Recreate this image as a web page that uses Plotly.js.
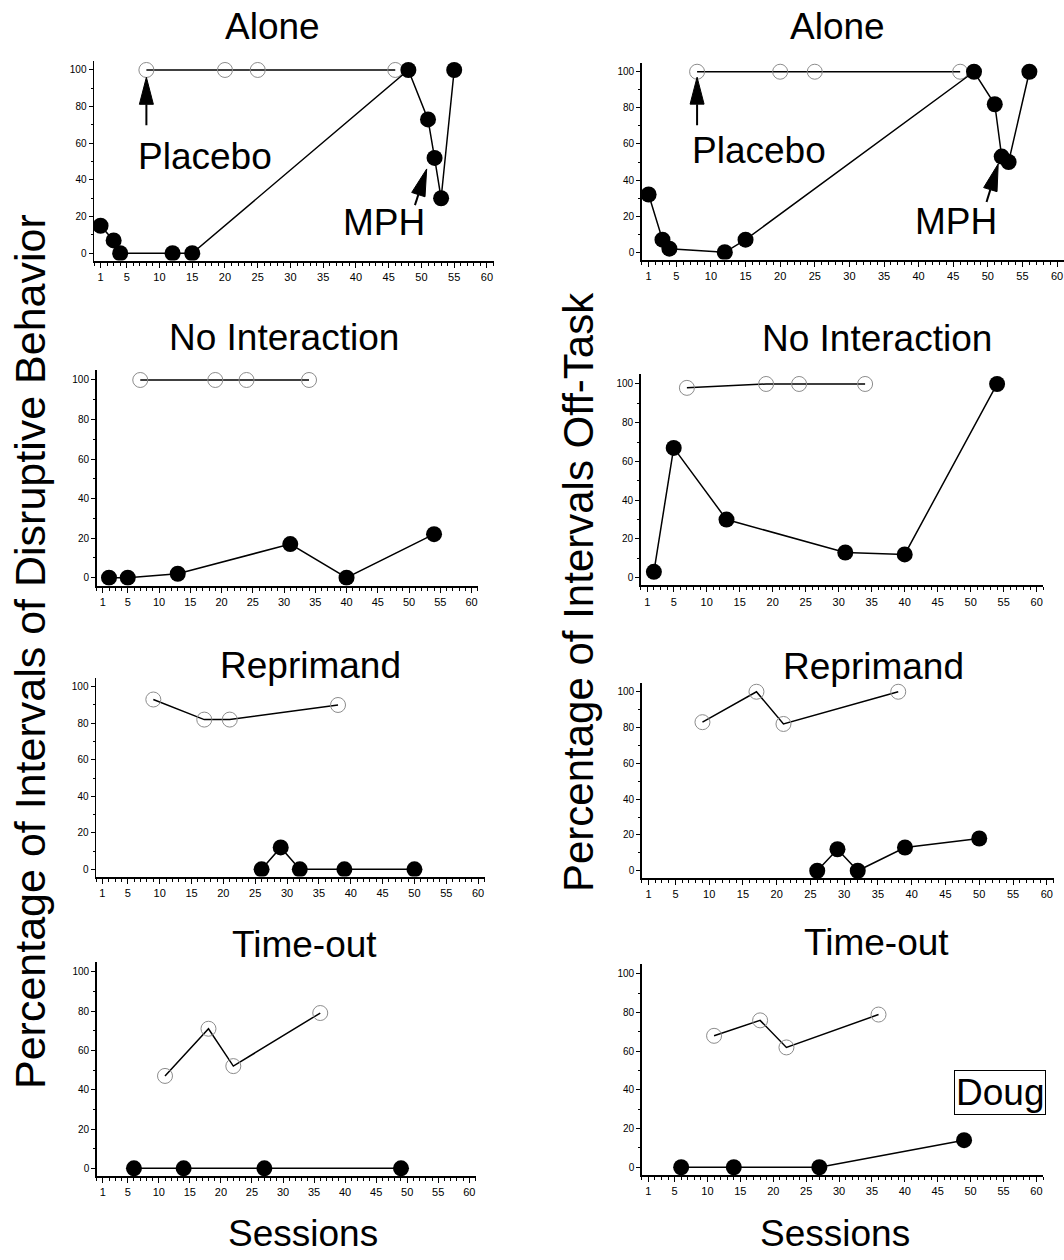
<!DOCTYPE html>
<html><head><meta charset="utf-8">
<script src="https://cdn.plot.ly/plotly-3.0.1.min.js"></script>
<style>html,body{margin:0;padding:0;background:#fff}#chart{width:1064px;height:1260px}</style>
</head><body><div id="chart"></div>
<script>
// ---------- tick labels ----------
const sessionTicks = [1,5,10,15,20,25,30,35,40,45,50,55,60];
const percentTicks = [0,20,40,60,80,100];
const conditions = ["Alone","No Interaction","Reprimand","Time-out"];

// ---------- Percentage of intervals of disruptive behavior (left column) ----------
const aloneDisPlaceboX = [8,20,25,46];
const aloneDisPlaceboY = [100,100,100,100];
const aloneDisMphX = [1,3,4,12,15,48,51,52,53,55];
const aloneDisMphY = [15,7,0,0,0,100,73,52,30,100];

const noIntDisPlaceboX = [7,19,24,34];
const noIntDisPlaceboY = [100,100,100,100];
const noIntDisMphX = [2,5,13,31,40,54];
const noIntDisMphY = [0,0,2,17,0,22];

const reprDisPlaceboX = [9,17,21,38];
const reprDisPlaceboY = [93,82,82,90];
const reprDisMphX = [26,29,32,39,50];
const reprDisMphY = [0,12,0,0,0];

const timeDisPlaceboX = [11,18,22,36];
const timeDisPlaceboY = [47,71,52,79];
const timeDisMphX = [6,14,27,49];
const timeDisMphY = [0,0,0,0];

// ---------- Percentage of intervals off-task (right column) ----------
const aloneOffPlaceboX = [8,20,25,46];
const aloneOffPlaceboY = [100,100,100,100];
const aloneOffMphX = [1,3,4,12,15,48,51,52,53,56];
const aloneOffMphY = [32,7,2,0,7,100,82,53,50,100];

const noIntOffPlaceboX = [7,19,24,34];
const noIntOffPlaceboY = [98,100,100,100];
const noIntOffMphX = [2,5,13,31,40,54];
const noIntOffMphY = [3,67,30,13,12,100];

const reprOffPlaceboX = [9,17,21,38];
const reprOffPlaceboY = [83,100,82,100];
const reprOffMphX = [26,29,32,39,50];
const reprOffMphY = [0,12,0,13,18];

const timeOffPlaceboX = [11,18,22,36];
const timeOffPlaceboY = [68,76,62,79];
const timeOffMphX = [6,14,27,49];
const timeOffMphY = [0,0,0,14];

// ---------- annotation anchors (data units) ----------
const placeboLabelDis = [16.9, 53];
const mphLabelDis = [44.3, 17];
const placeboArrowTipDis = [8, 96];
const mphArrowTipDis = [50.8, 46];
const placeboLabelOff = [16.9, 56.5];
const mphLabelOff = [45.4, 17];
const placeboArrowTipOff = [8, 97];
const mphArrowTipOff = [51.5, 49];
const dougLabel = [54.5, 38.5];

// ---------- layout geometry (pixels) ----------
const W = 1064, H = 1260;
const FONT = "Liberation Sans, Arial, Helvetica, sans-serif";
// [left, right, top, bottom] of each plot area
const leftBoxes  = [[94,493.5,60.8,260.6],[96.5,477.8,370.1,585.6],[96,484.5,677.6,876.6],[96.7,475.5,961.9,1176.2]];
const rightBoxes = [[641.7,1064,62.7,259.5],[640.7,1043.3,374.3,585.4],[641.7,1053.5,682.8,877.9],[641.7,1043,964.3,1175]];
const leftTitlePos  = [[272,26],[283.5,338],[310,665],[304,944]];
const rightTitlePos = [[837,26],[876.7,339],[873,666],[876,942]];

const panels = [
  {box:leftBoxes[0], pX:aloneDisPlaceboX, pY:aloneDisPlaceboY, mX:aloneDisMphX, mY:aloneDisMphY},
  {box:leftBoxes[1], pX:noIntDisPlaceboX, pY:noIntDisPlaceboY, mX:noIntDisMphX, mY:noIntDisMphY},
  {box:leftBoxes[2], pX:reprDisPlaceboX, pY:reprDisPlaceboY, mX:reprDisMphX, mY:reprDisMphY},
  {box:leftBoxes[3], pX:timeDisPlaceboX, pY:timeDisPlaceboY, mX:timeDisMphX, mY:timeDisMphY},
  {box:rightBoxes[0], pX:aloneOffPlaceboX, pY:aloneOffPlaceboY, mX:aloneOffMphX, mY:aloneOffMphY},
  {box:rightBoxes[1], pX:noIntOffPlaceboX, pY:noIntOffPlaceboY, mX:noIntOffMphX, mY:noIntOffMphY},
  {box:rightBoxes[2], pX:reprOffPlaceboX, pY:reprOffPlaceboY, mX:reprOffMphX, mY:reprOffMphY},
  {box:rightBoxes[3], pX:timeOffPlaceboX, pY:timeOffPlaceboY, mX:timeOffMphX, mY:timeOffMphY}
];

const data = [];
const layout = {
  width: W, height: H,
  margin: {l:0, r:0, t:0, b:0},
  paper_bgcolor: "#fff", plot_bgcolor: "rgba(0,0,0,0)",
  showlegend: false,
  font: {family: FONT, color: "#000"},
  annotations: [], shapes: []
};

panels.forEach((p, i) => {
  const n = i + 1;
  const xa = n === 1 ? "xaxis" : "xaxis" + n;
  const ya = n === 1 ? "yaxis" : "yaxis" + n;
  const xr = n === 1 ? "x" : "x" + n;
  const yr = n === 1 ? "y" : "y" + n;
  const [l, r, t, b] = p.box;
  layout[xa] = {
    domain: [l / W, Math.min(1, r / W)], range: [0, 61], anchor: yr,
    showline: true, linecolor: "#000", linewidth: 2,
    ticks: "outside", ticklen: 5, tickwidth: 1, tickcolor: "#000",
    tickmode: "array", tickvals: sessionTicks, ticktext: sessionTicks.map(String),
    tickfont: {size: 11, family: FONT, color: "#000"},
    showgrid: false, zeroline: false, fixedrange: true,
    minor: {tickmode: "linear", tick0: 0, dtick: 1, ticks: "outside", ticklen: 3, tickwidth: 1, tickcolor: "#000", showgrid: false}
  };
  layout[ya] = {
    domain: [1 - b / H, 1 - t / H], range: [-4, 105], anchor: xr,
    showline: true, linecolor: "#000", linewidth: 1.5,
    ticks: "outside", ticklen: 4, tickwidth: 1, tickcolor: "#000",
    tickmode: "array", tickvals: percentTicks,
    tickfont: {size: 10, family: FONT, color: "#000"},
    showgrid: false, zeroline: false, fixedrange: true,
    minor: {tickmode: "linear", tick0: 0, dtick: 10, ticks: "outside", ticklen: 2, tickwidth: 1, tickcolor: "#000", showgrid: false}
  };
  data.push({
    type: "scatter", mode: "lines+markers", x: p.pX, y: p.pY, xaxis: xr, yaxis: yr,
    line: {color: "#000", width: 1.5},
    marker: {symbol: "circle-open", size: 15, color: "#8c8c8c", line: {width: 1}},
    hoverinfo: "x+y"
  });
  data.push({
    type: "scatter", mode: "lines+markers", x: p.mX, y: p.mY, xaxis: xr, yaxis: yr,
    line: {color: "#000", width: 1.5},
    marker: {symbol: "circle", size: 16, color: "#000"},
    hoverinfo: "x+y"
  });
});

function title(text, pos, size) {
  return {text, x: pos[0] / W, y: 1 - pos[1] / H, xref: "paper", yref: "paper",
    xanchor: "center", yanchor: "middle", showarrow: false,
    font: {family: FONT, size: size, color: "#000"}};
}
leftTitlePos.forEach((pos, i) => layout.annotations.push(title(conditions[i], pos, 37)));
rightTitlePos.forEach((pos, i) => layout.annotations.push(title(conditions[i], pos, 37)));
layout.annotations.push(title("Sessions", [303, 1233], 37));
layout.annotations.push(title("Sessions", [835, 1233], 37));
layout.annotations.push(Object.assign(title("Percentage of Intervals of Disruptive Behavior", [30, 652], 43), {textangle: -90}));
layout.annotations.push(Object.assign(title("Percentage of Intervals Off-Task", [578, 592], 42), {textangle: -90}));

function label(text, pos, xr, yr, size) {
  return {text, x: pos[0], y: pos[1], xref: xr, yref: yr, xanchor: "center", yanchor: "middle",
    showarrow: false, font: {family: FONT, size: size, color: "#000"}};
}
layout.annotations.push(label("Placebo", placeboLabelDis, "x", "y", 37));
layout.annotations.push(label("MPH", mphLabelDis, "x", "y", 37));
layout.annotations.push(label("Placebo", placeboLabelOff, "x5", "y5", 37));
layout.annotations.push(label("MPH", mphLabelOff, "x5", "y5", 37));
layout.annotations.push(Object.assign(label("Doug", dougLabel, "x8", "y8", 37),
  {bordercolor: "#000", borderwidth: 1, borderpad: 1, bgcolor: "#fff"}));

// arrows drawn as pixel-sized shapes anchored at their tips
function arrow(tip, xr, yr, angleDeg, totalLen) {
  const a = angleDeg * Math.PI / 180, dx = Math.cos(a), dy = Math.sin(a);
  const headL = 27, headW = 14;
  const bx = -headL * dx, by = -headL * dy, px = -dy, py = dx;
  const tri = `M0,0 L${bx + px * headW / 2},${by + py * headW / 2} L${bx - px * headW / 2},${by - py * headW / 2} Z`;
  const shaft = `M${bx},${by} L${-totalLen * dx},${-totalLen * dy}`;
  const base = {type: "path", xref: xr, yref: yr, xsizemode: "pixel", ysizemode: "pixel", xanchor: tip[0], yanchor: tip[1]};
  return [
    Object.assign({}, base, {path: tri, fillcolor: "#000", line: {color: "#000", width: 1}}),
    Object.assign({}, base, {path: shaft, line: {color: "#000", width: 2}})
  ];
}
layout.shapes.push(...arrow(placeboArrowTipDis, "x", "y", 90, 48));
layout.shapes.push(...arrow(mphArrowTipDis, "x", "y", 72, 38));
layout.shapes.push(...arrow(placeboArrowTipOff, "x5", "y5", 90, 48));
layout.shapes.push(...arrow(mphArrowTipOff, "x5", "y5", 73, 40));

Plotly.newPlot("chart", data, layout, {staticPlot: true, displayModeBar: false});
</script>
</body></html>
